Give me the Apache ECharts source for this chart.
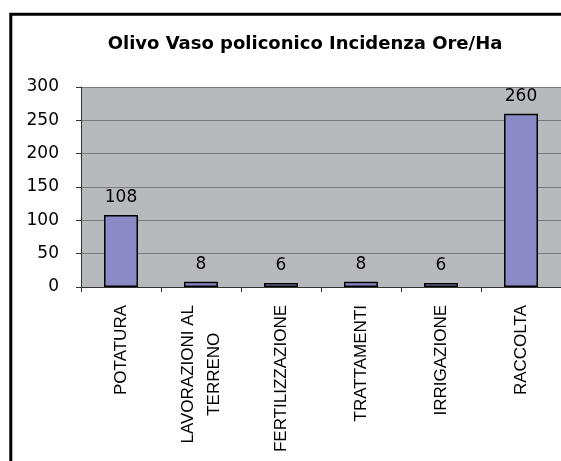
<!DOCTYPE html>
<html>
<head>
<meta charset="utf-8">
<script src="https://cdn.jsdelivr.net/npm/echarts@6/dist/echarts.min.js"></script>
<style>
  html, body { margin: 0; padding: 0; background: #fff; }
  #chart { width: 561px; height: 461px; }
</style>
</head>
<body>
<div id="chart"></div>
<script>
const categories = [
  "POTATURA",
  "LAVORAZIONI AL\nTERRENO",
  "FERTILIZZAZIONE",
  "TRATTAMENTI",
  "IRRIGAZIONE",
  "RACCOLTA",
];
const hours = [108, 8, 6, 8, 6, 260];
const yTicks = [0, 50, 100, 150, 200, 250, 300];

const chart = echarts.init(document.getElementById("chart"));

chart.setOption({
  animation: false,
  backgroundColor: "#fff",
  title: {
    text: "Olivo Vaso policonico Incidenza Ore/Ha",
    left: 300,
    top: 30,
    textAlign: "center",
    textStyle: {
      fontFamily: "DejaVu Sans",
      fontWeight: "bold",
      fontSize: 18,
      color: "#000",
    },
  },
  graphic: [
    {
      type: "rect",
      shape: { x: 10.8, y: 14.2, width: 600, height: 500 },
      style: { fill: "none", stroke: "#000", lineWidth: 3 },
      z: 100,
    },
  ],
  grid: {
    left: 81,
    top: 87,
    right: 0,
    bottom: 174,
    show: true,
    backgroundColor: "#b6babd",
    borderWidth: 0,
  },
  xAxis: {
    type: "category",
    data: categories,
    axisLine: { show: true, lineStyle: { color: "#333", width: 1 } },
    axisTick: { show: true, length: 5, lineStyle: { color: "#333" } },
    axisLabel: {
      rotate: 90,
      margin: 18,
      interval: 0,
      fontFamily: "Liberation Sans",
      fontSize: 17,
      color: "#000",
      lineHeight: 26,
      formatter: (value) =>
        value
          .split("\n")
          .map((line) => `{c|${line}}`)
          .join("\n"),
      rich: {
        c: {
          align: "center",
          fontFamily: "Liberation Sans",
          fontSize: 17,
          color: "#000",
        },
      },
    },
  },
  yAxis: {
    type: "value",
    min: yTicks[0],
    max: yTicks[yTicks.length - 1],
    interval: yTicks[1] - yTicks[0],
    axisLine: { show: true, lineStyle: { color: "#333", width: 1 } },
    axisTick: { show: true, length: 5, lineStyle: { color: "#333" } },
    splitLine: { show: true, lineStyle: { color: "#7a7a7a", width: 1 } },
    axisLabel: {
      margin: 22,
      fontFamily: "DejaVu Sans",
      fontSize: 17,
      color: "#000",
    },
  },
  series: [
    {
      type: "bar",
      data: hours,
      barWidth: 34,
      itemStyle: {
        color: "#8a8ac6",
        borderColor: "#000",
        borderWidth: 1.5,
      },
      label: {
        show: true,
        position: "top",
        distance: 9,
        fontFamily: "DejaVu Sans",
        fontSize: 17,
        color: "#000",
      },
    },
  ],
});
</script>
</body>
</html>
